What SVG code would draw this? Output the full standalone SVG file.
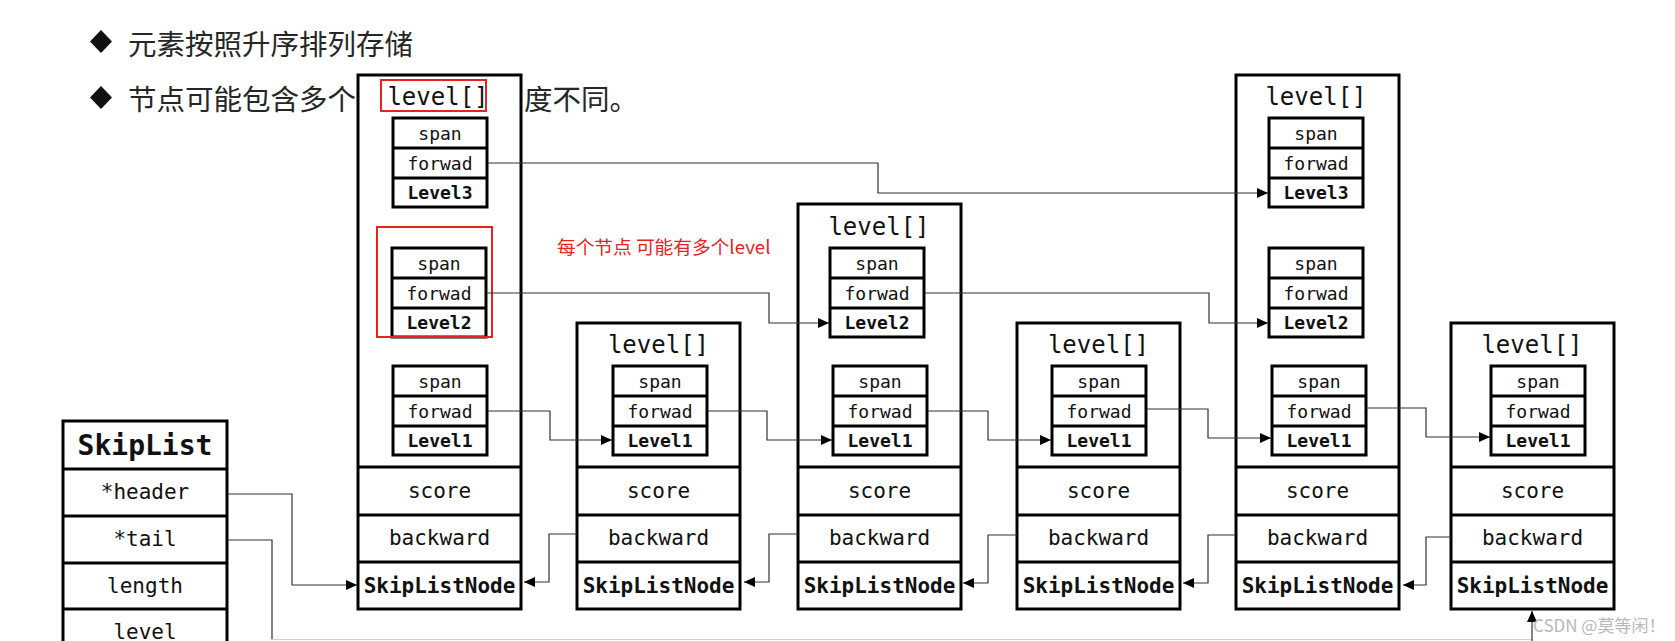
<svg xmlns="http://www.w3.org/2000/svg" width="1675" height="641" viewBox="0 0 1675 641">
<style>
.box{fill:#fff;stroke:#000;stroke-width:3}
.div{stroke:#000;stroke-width:3}
.mono{font-family:"DejaVu Sans Mono","Liberation Mono",monospace;fill:#111;text-anchor:middle;dominant-baseline:central}
.lv{font-size:24px}
.sm{font-size:18px}
.smb{font-size:18px;font-weight:bold}
.md{font-size:21px}
.mdb{font-size:21px;font-weight:bold}
.ttl{font-size:28px;font-weight:bold}
.cjk{font-family:"Noto Sans CJK SC","Noto Sans",sans-serif;fill:#262626;font-size:28.5px;dominant-baseline:central}
.red{font-family:"Noto Sans CJK SC","Noto Sans",sans-serif;fill:#e8231f;font-size:18.7px;dominant-baseline:central}
.redbox{fill:none;stroke:#e8231f;stroke-width:2}
.conn{fill:none;stroke:#333;stroke-width:1.2}
.faint{fill:none;stroke:#d0d0d0;stroke-width:1.2}
</style>
<defs>
<marker id="ah" markerUnits="userSpaceOnUse" markerWidth="12" markerHeight="10" refX="11" refY="5" orient="auto">
<path d="M0,0 L11,5 L0,10 z" fill="#000"/>
</marker>
<g id="lvl">
<rect class="box" x="0" y="0" width="94" height="89"/>
<line class="div" x1="0" y1="30" x2="94" y2="30"/>
<line class="div" x1="0" y1="60" x2="94" y2="60"/>
<text class="mono sm" x="47" y="15">span</text>
<text class="mono sm" x="47" y="45">forwad</text>
</g>
</defs>
<rect width="1675" height="641" fill="#fff"/>

<g id="bullets">
<polygon points="101,30 112,41.5 101,53 90,41.5" fill="#111"/>
<text class="cjk" x="128" y="42">元素按照升序排列存储</text>
<polygon points="101,86 112,97.5 101,109 90,97.5" fill="#111"/>
<text class="cjk" x="128" y="97">节点可能包含多个</text>
<text class="cjk" x="524" y="97">度不同。</text>
</g>

<g id="skiplist">
<rect class="box" x="63" y="421" width="164" height="260"/>
<line class="div" x1="63" y1="469" x2="227" y2="469"/>
<line class="div" x1="63" y1="516" x2="227" y2="516"/>
<line class="div" x1="63" y1="563" x2="227" y2="563"/>
<line class="div" x1="63" y1="609" x2="227" y2="609"/>
<text class="mono ttl" x="145" y="445">SkipList</text>
<text class="mono md" x="145" y="492">*header</text>
<text class="mono md" x="145" y="539">*tail</text>
<text class="mono md" x="145" y="586">length</text>
<text class="mono md" x="145" y="632">level</text>
</g>

<g id="node1">
<rect class="box" x="358" y="75" width="163" height="534"/>
<text class="mono lv" x="438" y="97">level[]</text>
<use href="#lvl" x="393" y="118"/><text class="mono smb" x="440" y="192.5">Level3</text>
<use href="#lvl" x="392" y="248"/><text class="mono smb" x="439" y="322.5">Level2</text>
<use href="#lvl" x="393" y="366"/><text class="mono smb" x="440" y="440.5">Level1</text>
<line class="div" x1="358" y1="467" x2="521" y2="467"/>
<line class="div" x1="358" y1="515" x2="521" y2="515"/>
<line class="div" x1="358" y1="562" x2="521" y2="562"/>
<text class="mono md" x="439.5" y="491">score</text>
<text class="mono md" x="439.5" y="538">backward</text>
<text class="mono mdb" x="439.5" y="585.5">SkipListNode</text>
<rect class="redbox" x="381" y="80" width="105" height="31"/>
<rect class="redbox" x="377" y="227" width="115" height="110"/>
</g>

<g id="node2">
<rect class="box" x="577" y="323" width="163" height="286"/>
<text class="mono lv" x="658.5" y="345">level[]</text>
<use href="#lvl" x="613" y="366"/><text class="mono smb" x="660" y="440.5">Level1</text>
<line class="div" x1="577" y1="467" x2="740" y2="467"/>
<line class="div" x1="577" y1="515" x2="740" y2="515"/>
<line class="div" x1="577" y1="562" x2="740" y2="562"/>
<text class="mono md" x="658.5" y="491">score</text>
<text class="mono md" x="658.5" y="538">backward</text>
<text class="mono mdb" x="658.5" y="585.5">SkipListNode</text>
</g>

<g id="node3">
<rect class="box" x="798" y="204" width="163" height="405"/>
<text class="mono lv" x="879" y="227">level[]</text>
<use href="#lvl" x="830" y="248"/><text class="mono smb" x="877" y="322.5">Level2</text>
<use href="#lvl" x="833" y="366"/><text class="mono smb" x="880" y="440.5">Level1</text>
<line class="div" x1="798" y1="467" x2="961" y2="467"/>
<line class="div" x1="798" y1="515" x2="961" y2="515"/>
<line class="div" x1="798" y1="562" x2="961" y2="562"/>
<text class="mono md" x="879.5" y="491">score</text>
<text class="mono md" x="879.5" y="538">backward</text>
<text class="mono mdb" x="879.5" y="585.5">SkipListNode</text>
</g>

<g id="node4">
<rect class="box" x="1017" y="323" width="163" height="286"/>
<text class="mono lv" x="1098.5" y="345">level[]</text>
<use href="#lvl" x="1052" y="366"/><text class="mono smb" x="1099" y="440.5">Level1</text>
<line class="div" x1="1017" y1="467" x2="1180" y2="467"/>
<line class="div" x1="1017" y1="515" x2="1180" y2="515"/>
<line class="div" x1="1017" y1="562" x2="1180" y2="562"/>
<text class="mono md" x="1098.5" y="491">score</text>
<text class="mono md" x="1098.5" y="538">backward</text>
<text class="mono mdb" x="1098.5" y="585.5">SkipListNode</text>
</g>

<g id="node5">
<rect class="box" x="1236" y="75" width="163" height="534"/>
<text class="mono lv" x="1316" y="97">level[]</text>
<use href="#lvl" x="1269" y="118"/><text class="mono smb" x="1316" y="192.5">Level3</text>
<use href="#lvl" x="1269" y="248"/><text class="mono smb" x="1316" y="322.5">Level2</text>
<use href="#lvl" x="1272" y="366"/><text class="mono smb" x="1319" y="440.5">Level1</text>
<line class="div" x1="1236" y1="467" x2="1399" y2="467"/>
<line class="div" x1="1236" y1="515" x2="1399" y2="515"/>
<line class="div" x1="1236" y1="562" x2="1399" y2="562"/>
<text class="mono md" x="1317.5" y="491">score</text>
<text class="mono md" x="1317.5" y="538">backward</text>
<text class="mono mdb" x="1317.5" y="585.5">SkipListNode</text>
</g>

<g id="node6">
<rect class="box" x="1451" y="323" width="163" height="286"/>
<text class="mono lv" x="1532" y="345">level[]</text>
<use href="#lvl" x="1491" y="366"/><text class="mono smb" x="1538" y="440.5">Level1</text>
<line class="div" x1="1451" y1="467" x2="1614" y2="467"/>
<line class="div" x1="1451" y1="515" x2="1614" y2="515"/>
<line class="div" x1="1451" y1="562" x2="1614" y2="562"/>
<text class="mono md" x="1532.5" y="491">score</text>
<text class="mono md" x="1532.5" y="538">backward</text>
<text class="mono mdb" x="1532.5" y="585.5">SkipListNode</text>
</g>

<g id="note">
<text class="red" x="557" y="245">每个节点 可能有多个level</text>
</g>

<g id="connectors">
<polyline class="conn" points="488,163 878,163 878,193 1268,193" marker-end="url(#ah)"/>
<polyline class="conn" points="487,293 769,293 769,323 829,323" marker-end="url(#ah)"/>
<polyline class="conn" points="925,293 1209,293 1209,323 1268,323" marker-end="url(#ah)"/>
<polyline class="conn" points="488,411 550,411 550,440 612,440" marker-end="url(#ah)"/>
<polyline class="conn" points="708,411 767,411 767,440 832,440" marker-end="url(#ah)"/>
<polyline class="conn" points="928,411 988,411 988,440 1051,440" marker-end="url(#ah)"/>
<polyline class="conn" points="1147,409 1208,409 1208,438 1271,438" marker-end="url(#ah)"/>
<polyline class="conn" points="1367,408 1426,408 1426,437 1490,437" marker-end="url(#ah)"/>
<polyline class="conn" points="577,534 549,534 549,582 524,582" marker-end="url(#ah)"/>
<polyline class="conn" points="798,534 769,534 769,582 744,582" marker-end="url(#ah)"/>
<polyline class="conn" points="1017,535 988,535 988,583 963,583" marker-end="url(#ah)"/>
<polyline class="conn" points="1236,535 1208,535 1208,583 1183,583" marker-end="url(#ah)"/>
<polyline class="conn" points="1451,537 1426,537 1426,585 1403,585" marker-end="url(#ah)"/>
<polyline class="conn" points="228,494 292,494 292,585 357,585" marker-end="url(#ah)"/>
<polyline class="conn" points="228,540 272,540 272,639.5"/>
<polyline class="faint" points="272,639.5 1532,639.5"/>
<polyline class="conn" points="1532,641 1532,611" marker-end="url(#ah)"/>
</g>

<text x="1533" y="624" font-family="Noto Sans CJK SC, Noto Sans, sans-serif" font-size="17" fill="#b8b8b8" dominant-baseline="central">CSDN @莫等闲！</text>
</svg>
